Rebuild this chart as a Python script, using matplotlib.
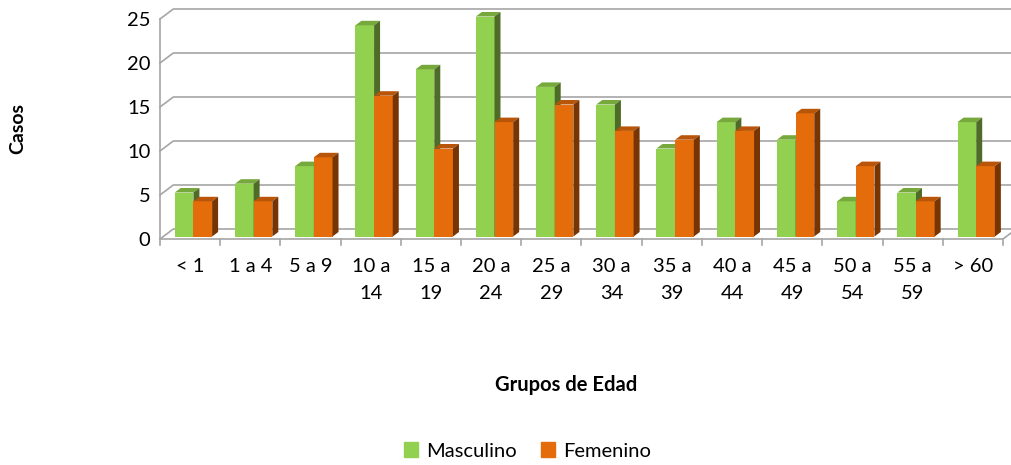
import numpy as np
import matplotlib.pyplot as plt
from matplotlib.patches import Polygon, Patch

grupos = ['< 1', '1 a 4', '5 a 9', '10 a\n14', '15 a\n19', '20 a\n24', '25 a\n29',
          '30 a\n34', '35 a\n39', '40 a\n44', '45 a\n49', '50 a\n54', '55 a\n59', '> 60']
masculino = [5, 6, 8, 24, 19, 25, 17, 15, 10, 13, 11, 4, 5, 13]
femenino = [4, 4, 9, 16, 10, 13, 15, 12, 11, 12, 14, 8, 4, 8]

plt.rcParams['font.family'] = ['Lato', 'DejaVu Sans']

fig = plt.figure(figsize=(10.12, 4.65), dpi=100)
ax = fig.add_axes([160 / 1012, 226 / 465, 843 / 1012, 220 / 465])
n = len(grupos)
ax.set_xlim(0, n)
ax.set_ylim(0, 25)
for s in ax.spines.values():
    s.set_visible(False)

# depth of the fake 3d box, in data units
DX, DY = 0.221, 1.136
grid_c = '#a6a6a6'
for v in range(0, 26, 5):
    ax.plot([0, DX, n + DX], [v, v + DY, v + DY], color=grid_c, lw=1.2, clip_on=False, zorder=1)
ax.plot([0, 0], [0, 25], color=grid_c, lw=1.2, clip_on=False, zorder=1)
ax.plot([0, n, n + DX], [0, 0, DY], color=grid_c, lw=1.2, clip_on=False, zorder=1)
for i in range(n + 1):
    ax.plot([i, i], [0, -0.65], color=grid_c, lw=1.2, clip_on=False, zorder=1)

ox, oy = 0.25 * DX, 0.25 * DY
bx, by = 0.45 * DX, 0.45 * DY
w = 0.31
x = np.arange(n)

colors_m = ('#92d050', '#76a83c', '#4f6b28')
colors_f = ('#e46c0a', '#b95508', '#773503')


def bar3d(xl, h, cols, z):
    ax.bar(xl + ox, h, width=w, bottom=oy, align='edge', color=cols[0],
           clip_on=False, zorder=z)
    xr = xl + ox + w
    top = [(xl + ox, h + oy), (xr, h + oy), (xr + bx, h + oy + by), (xl + ox + bx, h + oy + by)]
    side = [(xr, oy), (xr + bx, oy + by), (xr + bx, h + oy + by), (xr, h + oy)]
    ax.add_patch(Polygon(top, closed=True, fc=cols[1], ec='none', clip_on=False, zorder=z))
    ax.add_patch(Polygon(side, closed=True, fc=cols[2], ec='none', clip_on=False, zorder=z))


for i in range(n):
    bar3d(x[i] + 0.19, masculino[i], colors_m, 3 + 2 * i)
    bar3d(x[i] + 0.19 + w, femenino[i], colors_f, 4 + 2 * i)

ax.set_yticks(range(0, 26, 5))
ax.set_xticks(x + 0.5)
ax.set_xticklabels(grupos, linespacing=1.7)
ax.tick_params(axis='y', length=0, pad=7, labelsize=14.5)
ax.tick_params(axis='x', length=0, pad=14, labelsize=14.5)

fig.text(0.559, 1 - 385 / 465, 'Grupos de Edad', ha='center', va='center',
         fontsize=14.5, fontweight='bold')
fig.text(18 / 1012, 1 - 128 / 465, 'Casos', rotation=90, ha='center', va='center',
         fontsize=14, fontweight='bold')

handles = [Patch(color=colors_m[0]), Patch(color=colors_f[0])]
fig.legend(handles, ['Masculino', 'Femenino'], loc='center', bbox_to_anchor=(0.521, 1 - 451 / 465),
           ncol=2, frameon=False, fontsize=14.5, handlelength=0.7, handleheight=0.7,
           handletextpad=0.4, columnspacing=1.2)

fig.savefig('out.png', dpi=100)
